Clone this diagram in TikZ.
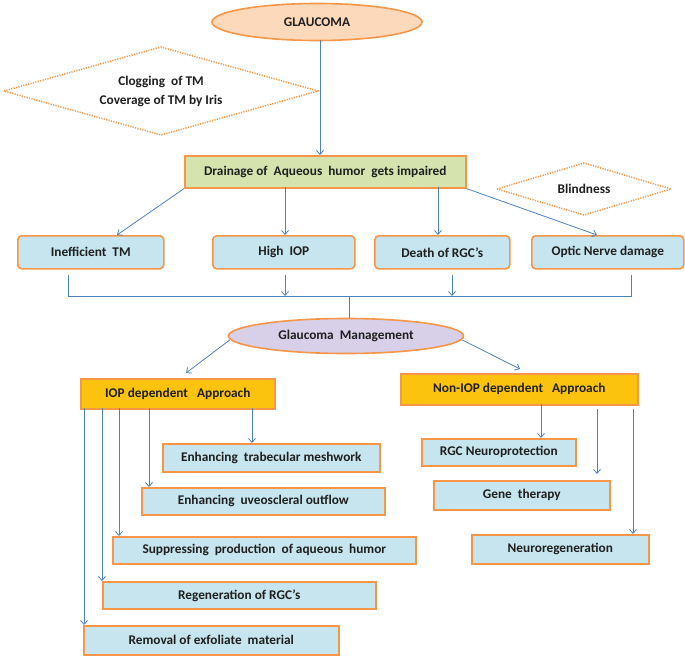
\documentclass[tikz,border=0pt]{standalone}
\usepackage{fontspec}
\setmainfont{Carlito}
\usetikzlibrary{shapes.geometric,arrows.meta}
\definecolor{borange}{HTML}{F79646}
\definecolor{fblue}{HTML}{C6E5EE}
\definecolor{fgold}{HTML}{FCC30E}
\definecolor{fgreen}{HTML}{D5E4AE}
\definecolor{flav}{HTML}{D7D0E8}
\definecolor{fpeach}{HTML}{FCD9BA}
\definecolor{lblue}{HTML}{4F81BD}
\definecolor{txt}{HTML}{1F1F1F}
\tikzset{
  tfont/.style={text=txt, font=\fontsize{13.3}{15}\selectfont\bfseries},
  base/.style={draw=borange, line width=1.6pt, tfont, inner sep=0pt, anchor=north west},
  rbox/.style={base, rectangle, rounded corners=4pt, fill=fblue},
  bbox/.style={base, rectangle, fill=fblue},
  gbox/.style={base, rectangle, fill=fgold},
  ell/.style={base, ellipse, anchor=center},
  dia/.style={draw=borange, line width=1.5pt, dash pattern=on 1.2pt off 1.3pt},
  diatext/.style={tfont, align=center, inner sep=0pt},
  arr/.style={draw=lblue, line width=0.8pt, -{Straight Barb[length=4pt,width=7pt]}},
  ln/.style={draw=lblue, line width=0.8pt}
}
\begin{document}
\begin{tikzpicture}[x=1pt,y=-1pt]
\useasboundingbox (0,0) rectangle (685,658);
% top ellipse
\node[ell, fill=fpeach, minimum width=210pt, minimum height=37pt] (glau) at (317,22) {GLAUCOMA};
% diamond clogging
\draw[dia] (4,91) -- (161,47) -- (318,91) -- (161,135) -- cycle;
\node[diatext] (clog) at (161,91) {Clogging \ of TM\\[4pt]Coverage of TM by Iris};
% drainage
\node[base, fill=fgreen, minimum width=281pt, minimum height=32pt] (drain) at (184,155) {Drainage of \ Aqueous \ humor \ gets impaired};
% blindness
\draw[dia] (497,189) -- (584,163) -- (671,189) -- (584,215) -- cycle;
\node[diatext] (blind) at (584,189) {Blindness};
% row boxes
\node[rbox, minimum width=146pt, minimum height=33pt] (ineff) at (17,235) {Inefficient \ TM};
\node[rbox, minimum width=142pt, minimum height=33pt] (high) at (212,235) {High \ IOP};
\node[rbox, minimum width=135pt, minimum height=33pt] (death) at (374,235) {Death of RGC’s};
\node[rbox, minimum width=152pt, minimum height=33pt] (optic) at (531,235) {Optic Nerve damage};
% arrows top
\coordinate (g0) at (320,40);
\draw[arr] (g0) -- (g0 |- drain.north);
\draw[arr] (drain.south west) -- (117,235);
\coordinate (d1) at (285,187);
\coordinate (d2) at (438,187);
\draw[arr] (d1) -- (d1 |- high.north);
\draw[arr] (d2) -- (d2 |- death.north);
\draw[arr] (drain.south east) -- (597,235);
% merge connector
\coordinate (m1) at (68,275);
\coordinate (m2) at (285,275);
\coordinate (m3) at (452,275);
\coordinate (m4) at (631,275);
\coordinate (h) at (0,296);
\draw[ln] (m1) -- (m1 |- h) -- (m4 |- h) -- (m4);
\draw[arr] (m2) -- (m2 |- h);
\draw[arr] (m3) -- (m3 |- h);
% management
\node[ell, fill=flav, minimum width=235pt, minimum height=35pt] (mgmt) at (346,336) {Glaucoma \ Management};
\coordinate (c0) at (349,296);
\draw[ln] (c0) -- (c0 |- mgmt.north);
% approaches
\node[gbox, minimum width=194pt, minimum height=30pt] (iop) at (80,378) {IOP dependent \ \ Approach};
\node[gbox, minimum width=237pt, minimum height=31pt] (niop) at (400,373) {Non-IOP dependent \ \ Approach};
\draw[arr] (mgmt.west) ++(2,4) -- (186,373);
\draw[arr] (mgmt.east) ++(-2,4) -- (520,369);
% left sub boxes
\node[bbox, minimum width=217pt, minimum height=28pt] (trab) at (162,443) {Enhancing \ trabecular meshwork};
\node[bbox, minimum width=243pt, minimum height=27pt] (uveo) at (141,487) {Enhancing \ uveoscleral outflow};
\node[bbox, minimum width=303pt, minimum height=27pt] (supp) at (112,536) {Suppressing \ production \ of aqueous \ humor};
\node[bbox, minimum width=273pt, minimum height=27pt] (regen) at (102,581) {Regeneration of RGC’s};
\node[bbox, minimum width=255pt, minimum height=29pt] (remo) at (83,625) {Removal of exfoliate \ material};
\coordinate (i1) at (252,408);
\coordinate (i2) at (149,408);
\coordinate (i3) at (119,408);
\coordinate (i4) at (102,408);
\coordinate (i5) at (84,408);
\draw[arr] (i1) -- (i1 |- trab.north);
\draw[arr] (i2) -- (i2 |- uveo.north);
\draw[arr] (i3) -- (i3 |- supp.north);
\draw[arr] (i4) -- (i4 |- regen.north);
\draw[arr] (i5) -- (i5 |- remo.north);
% right sub boxes
\node[bbox, minimum width=154pt, minimum height=27pt] (neuro) at (421,438) {RGC Neuroprotection};
\node[bbox, minimum width=176pt, minimum height=29pt] (gene) at (433,480) {Gene \ therapy};
\node[bbox, minimum width=177pt, minimum height=29pt] (nreg) at (471,534) {Neuroregeneration};
\coordinate (n1) at (541,404);
\coordinate (n2) at (597,409);
\coordinate (n3) at (633,409);
\coordinate (n2e) at (597,474);
\draw[arr] (n1) -- (n1 |- neuro.north);
\draw[arr] (n2) -- (n2e);
\draw[arr] (n3) -- (n3 |- nreg.north);
\end{tikzpicture}
\end{document}
